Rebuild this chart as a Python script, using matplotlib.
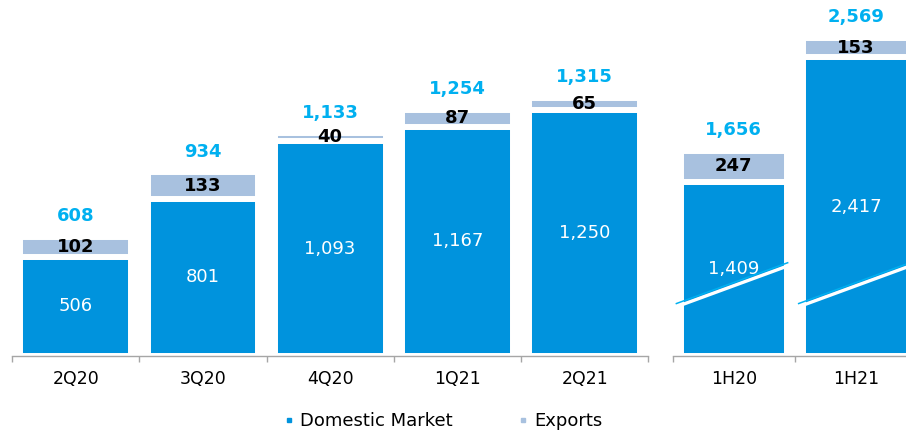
import matplotlib.pyplot as plt
from matplotlib.lines import Line2D

# --- data ---
quarters = ['2Q20', '3Q20', '4Q20', '1Q21', '2Q21']
q_domestic = [506, 801, 1093, 1167, 1250]
q_exports = [102, 133, 40, 87, 65]
q_total = [608, 934, 1133, 1254, 1315]

halves = ['1H20', '1H21']
h_domestic = [1409, 2417]
h_exports = [247, 153]
h_total = [1656, 2569]

# --- styles ---
DOM_COLOR = '#0093DD'
EXP_COLOR = '#A8C1DF'
TOT_COLOR = '#00B0F0'
AXIS_COLOR = '#A6A6A6'

W, H = 906, 432
fig = plt.figure(figsize=(W / 100, H / 100), dpi=100)


def px_axes(x0, x1, y0=356, y1=0):
    # axes placed in pixel coordinates of the figure
    return fig.add_axes([x0 / W, 1 - y0 / H, (x1 - x0) / W, (y0 - y1) / H])


def draw_panel(ax, cats, dom, exp, tot, ymax):
    x = list(range(len(cats)))
    ax.bar(x, dom, width=0.87, color=DOM_COLOR, edgecolor='white', linewidth=4.3)
    ax.bar(x, exp, bottom=dom, width=0.87, color=EXP_COLOR, edgecolor='white', linewidth=4.3)
    for i in x:
        ax.text(i, dom[i] / 2, f'{dom[i]:,}', ha='center', va='center',
                color='white', fontsize=13, zorder=5)
        ax.text(i, dom[i] + exp[i] / 2, f'{exp[i]:,}', ha='center', va='center',
                color='black', fontsize=13, fontweight='bold', zorder=5)
        ax.annotate(f'{tot[i]:,}', (i, tot[i]), xytext=(0, 15), textcoords='offset points',
                    ha='center', va='center', color=TOT_COLOR, fontsize=13, fontweight='bold')
    ax.set_xlim(-0.5, len(cats) - 0.5)
    ax.set_ylim(0, ymax)
    for s in ['top', 'left', 'right']:
        ax.spines[s].set_visible(False)
    ax.spines['bottom'].set_color(AXIS_COLOR)
    ax.spines['bottom'].set_linewidth(1)
    ax.set_yticks([])
    ax.set_xticks([i - 0.5 for i in range(len(cats) + 1)])
    ax.set_xticklabels([])
    ax.tick_params(axis='x', which='major', length=4.5, color=AXIS_COLOR, width=1)
    ax.set_xticks(x, minor=True)
    ax.set_xticklabels(cats, minor=True, fontsize=12.5)
    ax.tick_params(axis='x', which='minor', length=0, pad=10)
    ax.patch.set_alpha(0)


ax_q = px_axes(12, 648.3)
ax_h = px_axes(672.7, 917.3)

draw_panel(ax_q, quarters, q_domestic, q_exports, q_total, 1812)
draw_panel(ax_h, halves, h_domestic, h_exports, h_total, 2878)

# axis-break marks on the half-year bars (the 1H scale is compressed)
for i in range(len(halves)):
    xs = [i - 0.47, i + 0.44]
    ax_h.plot(xs, [398, 728], color='white', lw=2.4, zorder=4, solid_capstyle='butt')
    ax_h.plot(xs, [424, 754], color=TOT_COLOR, lw=1.1, zorder=4)

handles = [Line2D([], [], ls='none', marker='s', markersize=3.5, color=DOM_COLOR),
           Line2D([], [], ls='none', marker='s', markersize=3.5, color=EXP_COLOR)]
fig.legend(handles, ['Domestic Market', 'Exports'], loc='center',
           bbox_to_anchor=(443 / W, 1 - 421 / H), ncol=2, frameon=False, fontsize=13,
           handlelength=0.6, handletextpad=0.3, columnspacing=3.6)

fig.savefig('out.png', dpi=100)
